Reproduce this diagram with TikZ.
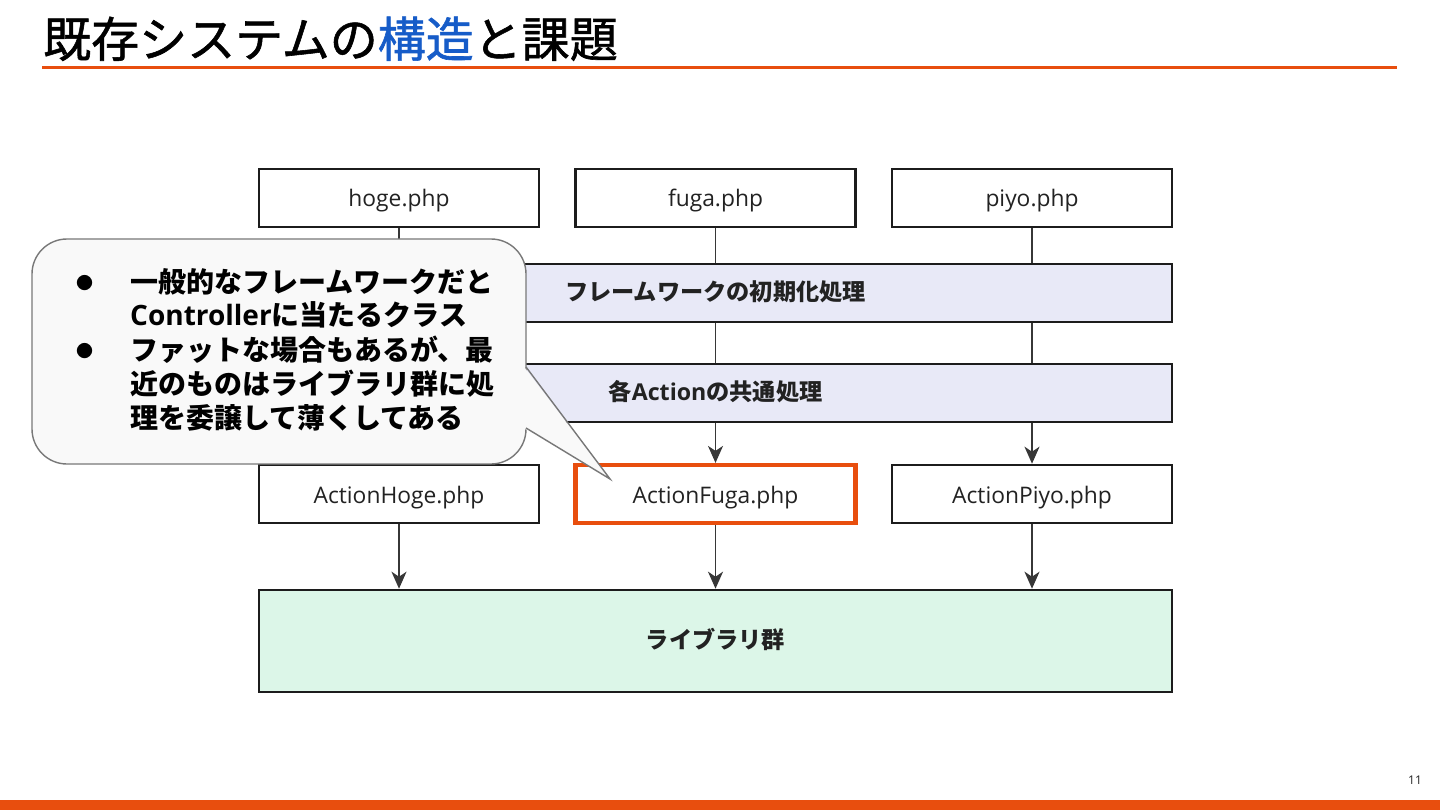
\documentclass[tikz,border=0pt]{standalone}
\usepackage{fontspec}
\setmainfont{Open Sans}
\newfontfamily\jpfont{Noto Sans CJK JP}
\newfontfamily\jptitle[FakeBold=1.2]{Noto Sans CJK JP}
\usepackage{tikz}
\usetikzlibrary{positioning,arrows.meta}

\definecolor{ink}{RGB}{34,34,34}
\definecolor{boxline}{RGB}{28,28,28}
\definecolor{linkgray}{RGB}{55,55,55}
\definecolor{initfill}{RGB}{232,233,247}
\definecolor{libfill}{RGB}{220,246,232}
\definecolor{notefill}{RGB}{249,249,249}
\definecolor{noteline}{RGB}{120,120,120}
\definecolor{accent}{RGB}{232,78,14}
\definecolor{accentblue}{RGB}{22,92,200}

\tikzset{
  phpbox/.style={draw=boxline,line width=2.6pt,fill=white,minimum width=280pt,minimum height=58pt,
    inner sep=0pt,text height=21pt,text depth=3pt,text=ink,font=\fontsize{22.8}{26}\selectfont},
  layer/.style={phpbox,minimum width=913pt,text height=18pt,text depth=3pt,
    font=\jpfont\bfseries\fontsize{23.2}{28}\selectfont},
  link/.style={draw=linkgray,line width=1.6pt},
  flow/.style={link,-{Stealth[length=17pt,width=15pt,inset=5pt]}}
}

\begin{document}
\begin{tikzpicture}[x=1pt,y=-1pt]
\useasboundingbox (0,0) rectangle (1440,810);
\fill[white] (0,0) rectangle (1440,810);

% title
\node[anchor=base west,inner sep=0pt,text=black,font=\jptitle\fontsize{48}{50}\selectfont] (title) at (43,57)
  {既存システムの\textcolor{accentblue}{構造}と課題};
\draw[accent,line width=3pt] (42,68) -- (1397,68);

% entry scripts
\node[phpbox] (hoge) at (399,198) {hoge.php};
\node[phpbox] (fuga) at (715.5,198) {fuga.php};
\node[phpbox] (piyo) at (1032,198) {piyo.php};

% shared layers
\node[layer,fill=initfill] (init) at (715.5,293) {フレームワークの初期化処理};
\node[layer,fill=initfill] (common) at (715.5,393) {各{\rmfamily\bfseries Action}の共通処理};

% actions
\node[phpbox] (acthoge) at (399,494) {ActionHoge.php};
\node[phpbox,draw=accent,line width=4.2pt] (actfuga) at (715.5,494) {ActionFuga.php};
\node[phpbox] (actpiyo) at (1032,494) {ActionPiyo.php};

\node[layer,fill=libfill,minimum height=102pt] (lib) at (715.5,641) {ライブラリ群};

% connectors
\draw[link] (hoge) -- (hoge |- init.north);
\draw[link] (fuga) -- (fuga |- init.north);
\draw[link] (piyo) -- (piyo |- init.north);
\draw[link] (hoge |- init.south) -- (hoge |- common.north);
\draw[link] (fuga |- init.south) -- (fuga |- common.north);
\draw[link] (piyo |- init.south) -- (piyo |- common.north);
\draw[flow] (acthoge |- common.south) -- (acthoge);
\draw[flow] (actfuga |- common.south) -- (actfuga);
\draw[flow] (actpiyo |- common.south) -- (actpiyo);
\draw[flow] (acthoge) -- (acthoge |- lib.north);
\draw[flow] (actfuga) -- (actfuga |- lib.north);
\draw[flow] (actpiyo) -- (actpiyo |- lib.north);

% speech bubble
\draw[draw=noteline,fill=notefill,line width=1.4pt,rounded corners=35pt] (32,239) rectangle (526,464);
\fill[notefill] (524,367) -- (610,479) -- (524,428) -- cycle;
\draw[noteline,line width=1.4pt,line join=miter] (526,367) -- (610,479) -- (526,428);
\node[anchor=west,inner sep=0pt,text=black,font=\jpfont\bfseries\fontsize{28}{32.5}\selectfont] (note) at (76,353)
  {\begin{tabular}{@{}p{54pt}@{}l@{}}
   \raisebox{3pt}{\fontsize{17}{17}\selectfont ●} & 一般的なフレームワークだと\\
   & {\rmfamily\bfseries Controller}に当たるクラス\\
   \raisebox{3pt}{\fontsize{17}{17}\selectfont ●} & ファットな場合もあるが、最\\
   & 近のものはライブラリ群に処\\
   & 理を委譲して薄くしてある
   \end{tabular}};

% footer
\node[inner sep=0pt,text=ink,font=\fontsize{12}{14}\selectfont] (pagenum) at (1415,780) {11};
\fill[accent] (0,800) rectangle (1440,810);
\end{tikzpicture}
\end{document}
